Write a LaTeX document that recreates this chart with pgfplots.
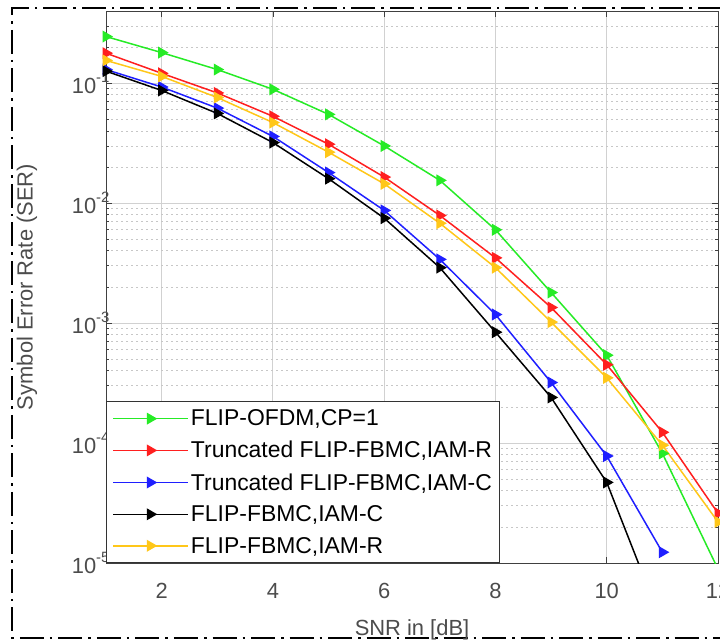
\documentclass[border=0pt]{standalone}
\usepackage{pgfplots}
\pgfplotsset{compat=1.18}
\usepackage{fontspec}
\setmainfont{Liberation Sans}
\definecolor{cgreen}{rgb}{0.15,0.92,0.15}
\definecolor{cred}{rgb}{1,0.12,0.12}
\definecolor{cblue}{rgb}{0.12,0.12,1}
\definecolor{cyellow}{rgb}{1,0.78,0.1}
\definecolor{tickgray}{rgb}{0.3,0.3,0.3}
\newcommand{\ex}[1]{10\raisebox{0.5em}{\fontsize{15}{17}\selectfont #1}}
\begin{document}
\begin{tikzpicture}
\useasboundingbox (0,0) rectangle (720bp,641bp);
\draw[line width=2.5bp, dash pattern=on 24bp off 6bp on 2.5bp off 6bp] (760bp,633bp) -- (12bp,633bp) -- (12bp,3bp) -- (760bp,3bp);
\begin{axis}[
  at={(106bp,78bp)}, anchor=south west,
  scale only axis, width=612bp, height=552bp,
  ymode=log,
  xmin=1, xmax=12, ymin=1e-5, ymax=0.4,
  xtick={2,4,6,8,10,12},
  ytick={1e-5,1e-4,1e-3,1e-2,1e-1},
  yticklabels={\ex{-5},\ex{-4},\ex{-3},\ex{-2},\ex{-1}},
  minor ytick={2e-5,3e-5,4e-5,5e-5,6e-5,7e-5,8e-5,9e-5,
               2e-4,3e-4,4e-4,5e-4,6e-4,7e-4,8e-4,9e-4,
               2e-3,3e-3,4e-3,5e-3,6e-3,7e-3,8e-3,9e-3,
               2e-2,3e-2,4e-2,5e-2,6e-2,7e-2,8e-2,9e-2,
               2e-1,3e-1},
  grid=both,
  major grid style={black!18, line width=0.9bp},
  minor grid style={black!22, line width=0.8bp, dash pattern=on 2bp off 3bp},
  tick align=inside,
  major tick length=6bp, minor tick length=3bp,
  axis line style={black!75, line width=1bp},
  every tick/.style={black!75, line width=0.8bp},
  tick label style={font=\fontsize{22}{26}\selectfont, text=tickgray},
  xticklabel style={yshift=-17bp},
  yticklabel style={xshift=7bp},
  /pgf/number format/assume math mode=true,
  xlabel={SNR in [dB]},
  ylabel={Symbol Error Rate (SER)},
  every axis x label/.style={at={(axis description cs:0.5,0)}, yshift=-67bp, anchor=center, font=\fontsize{22}{26}\selectfont, text=tickgray},
  every axis y label/.style={at={(axis description cs:0,0.5)}, xshift=-79bp, rotate=90, anchor=center, font=\fontsize{22}{26}\selectfont, text=tickgray},
  legend cell align=left,
  legend style={at={(rel axis cs:0,0)}, anchor=south west, draw=black!80, line width=1bp,
    font=\fontsize{23}{27}\selectfont, inner xsep=6bp, inner ysep=6bp, row sep=10bp},
  legend image code/.code={\draw[mark repeat=2,mark phase=2] plot coordinates {(0bp,0bp)(37bp,0bp)(75bp,0bp)};},
  every axis plot/.append style={line width=1.5bp, mark=triangle*, mark size=5.5bp, mark options={rotate=-90, solid}},
]
\addplot[color=cgreen] coordinates {(1,0.245)(2,0.18)(3,0.13)(4,0.089)(5,0.055)(6,0.030)(7,0.0155)(8,0.006)(9,0.0018)(10,5.4e-4)(11,8.2e-5)(12,8.9e-6)};
\addlegendentry{FLIP-OFDM,CP=1}
\addplot[color=cred] coordinates {(1,0.178)(2,0.121)(3,0.083)(4,0.053)(5,0.031)(6,0.0165)(7,0.0079)(8,0.0035)(9,1.35e-3)(10,4.5e-4)(11,1.23e-4)(12,2.6e-5)};
\addlegendentry{Truncated FLIP-FBMC,IAM-R}
\addplot[color=cblue] coordinates {(1,0.13)(2,0.093)(3,0.062)(4,0.036)(5,0.018)(6,0.0087)(7,0.0034)(8,1.18e-3)(9,3.2e-4)(10,7.8e-5)(11,1.23e-5)};
\addlegendentry{Truncated FLIP-FBMC,IAM-C}
\addplot[color=black] coordinates {(1,0.126)(2,0.087)(3,0.056)(4,0.032)(5,0.016)(6,0.0075)(7,0.0029)(8,8.4e-4)(9,2.4e-4)(10,4.7e-5)(11,3.1e-6)};
\addlegendentry{FLIP-FBMC,IAM-C}
\addplot[color=cyellow] coordinates {(1,0.155)(2,0.114)(3,0.076)(4,0.047)(5,0.0266)(6,0.0145)(7,0.0068)(8,0.0029)(9,1.02e-3)(10,3.5e-4)(11,9.6e-5)(12,2.2e-5)};
\addlegendentry{FLIP-FBMC,IAM-R}
\end{axis}
\end{tikzpicture}
\end{document}
